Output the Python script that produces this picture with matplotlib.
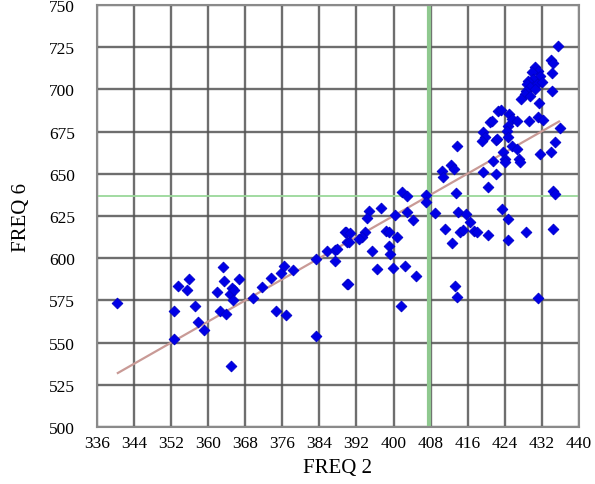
import numpy as np
import matplotlib
matplotlib.use("Agg")
import matplotlib.pyplot as plt

plt.rcParams['font.family'] = ['Liberation Serif', 'DejaVu Serif']

# FREQ 2 / FREQ 6 pairs
freq2 = [340.4, 353.4, 355.9, 355.5, 352.6, 357.1, 357.8, 359.1, 352.6, 363.2,
         363.4, 361.8, 365.1, 364.8, 365.6, 365.3, 366.6, 362.5, 363.8, 364.9,
         369.7, 371.6, 373.6, 375.8, 376.3, 378.4, 374.6, 376.8, 383.3, 383.2,
         385.6, 387.3, 387.3, 387.7, 389.6, 390.0, 390.0,
         401.9, 403.0, 407.1, 407.0, 409.0, 397.2, 394.7, 394.2, 400.3, 402.8,
         404.2, 389.7, 390.6, 393.8, 393.1, 392.6, 390.4, 398.3, 399.0, 400.7,
         399.0, 399.2, 395.4, 396.5, 399.9, 402.5, 404.8, 390.2, 401.6,
         414.0, 415.6, 416.5, 411.1, 414.3, 415.0, 417.4, 417.9, 420.4, 412.7,
         423.4, 424.7, 424.7, 428.6, 434.4, 413.2, 413.7, 431.2,
         413.6, 412.5, 413.0, 410.4, 410.7, 413.5,
         419.3, 419.7, 419.0, 420.8, 422.6, 422.2, 419.3, 421.5, 422.1, 420.4,
         435.5, 433.9, 434.3, 434.1, 430.5, 431.2, 429.8, 431.6, 430.1, 429.0,
         428.7, 430.9, 432.0, 429.4, 430.5, 428.6, 434.1, 428.3, 429.4, 427.6,
         431.4, 423.2, 425.0, 425.5, 426.6, 429.3, 431.2, 432.3, 424.7, 424.4,
         435.9, 434.8, 422.4, 424.7, 425.5, 426.6, 423.7, 427.1, 424.0, 431.6,
         434.0, 421.2, 424.0, 427.3, 434.4, 434.8]
freq6 = [573.5, 583.7, 587.7, 581.3, 568.7, 571.5, 562.0, 557.5, 552.1, 594.6,
         586.7, 580.2, 582.2, 578.8, 581.3, 575.4, 587.4, 568.7, 566.7, 536.0,
         576.2, 583.1, 588.0, 591.2, 595.2, 592.8, 568.9, 566.5, 599.5, 554.1,
         604.4, 605.0, 598.5, 605.4, 615.3, 609.4, 584.7,
         639.4, 637.0, 637.4, 633.5, 626.6, 629.6, 628.1, 623.6, 625.8, 627.6,
         622.8, 615.7, 614.7, 615.7, 612.4, 611.4, 609.4, 616.3, 615.3, 612.7,
         607.4, 602.5, 604.0, 593.6, 594.0, 595.6, 589.6, 584.7, 571.9,
         627.6, 626.2, 621.6, 617.3, 615.3, 616.7, 616.3, 615.3, 613.9, 608.8,
         629.1, 623.2, 611.0, 615.3, 617.3, 583.4, 577.2, 576.2,
         666.6, 655.2, 653.0, 651.8, 647.9, 638.6,
         674.6, 671.6, 669.6, 680.9, 687.4, 670.2, 650.9, 657.8, 649.9, 642.0,
         725.9, 717.6, 715.6, 709.7, 713.1, 711.1, 710.1, 708.1, 706.2, 705.2,
         703.2, 703.2, 704.2, 701.2, 700.2, 699.2, 699.2, 697.3, 696.3, 694.3,
         692.0, 688.0, 685.4, 682.5, 681.5, 681.5, 683.5, 682.0, 678.5, 675.5,
         677.0, 668.7, 670.6, 671.6, 666.3, 664.7, 662.7, 658.8, 658.8, 661.7,
         663.1, 681.5, 656.8, 657.2, 640.0, 638.0]

# trend line end points
trend_x = [340.5, 435.7]
trend_y = [532.0, 681.0]

# green reference lines
ref_x = 407.6
ref_y = 637.0

xticks = np.arange(336, 441, 8)
yticks = np.arange(500, 751, 25)

fig = plt.figure(figsize=(5.95, 4.85), dpi=100)
ax = fig.add_axes([0.163, 0.1175, 0.81, 0.87])

ax.set_xlim(336, 440)
ax.set_ylim(500, 750)
ax.set_xticks(xticks)
ax.set_yticks(yticks)
ax.grid(True, color='#555555', linewidth=1.7, alpha=0.85)
ax.set_axisbelow(True)

ax.axvline(ref_x, color='#8fc98f', linewidth=3, zorder=1.5)
ax.axhline(ref_y, color='#9ad89a', linewidth=1.3, zorder=1.5)

ax.plot(trend_x, trend_y, color='#c99a96', linewidth=1.6, zorder=2)
ax.scatter(freq2, freq6, marker='D', s=30, color='#0000e6', edgecolors='#0000c8',
           linewidths=0.6, zorder=3)

for s in ax.spines.values():
    s.set_color('#8a8a8a')
    s.set_linewidth(1.5)

ax.tick_params(length=0, labelsize=12.5, colors='black')
ax.tick_params(axis='y', pad=16)
ax.tick_params(axis='x', pad=6)
ax.set_xlabel('FREQ 2', fontsize=15, labelpad=5)
ax.set_ylabel('FREQ 6', fontsize=15, labelpad=13)

fig.savefig('out.png', dpi=100)
